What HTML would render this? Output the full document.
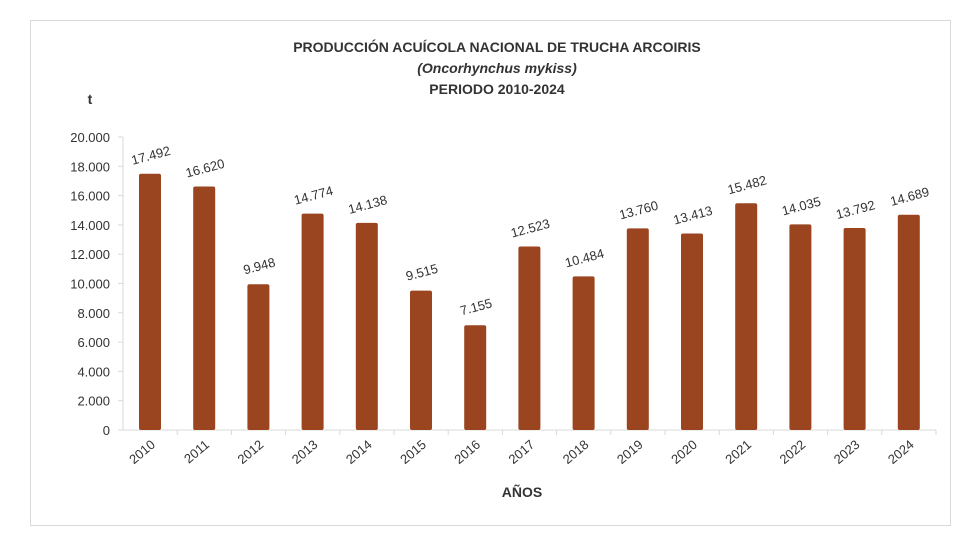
<!DOCTYPE html><html><head><meta charset="utf-8"><style>body{margin:0;background:#fff}svg{display:block;font-family:"Liberation Sans",sans-serif}</style></head><body>
<svg width="980" height="560" viewBox="0 0 980 560">
<rect x="30.5" y="20.5" width="920" height="505" fill="#fff" stroke="#d9d9d9"/>
<g font-weight="bold" font-size="14" fill="#333" text-anchor="middle">
<text x="497" y="52">PRODUCCIÓN ACUÍCOLA NACIONAL DE TRUCHA ARCOIRIS</text>
<text x="497" y="73" font-style="italic">(Oncorhynchus mykiss)</text>
<text x="497" y="94">PERIODO 2010-2024</text>
<text x="90" y="104">t</text>
<text x="522" y="497">AÑOS</text>
</g>
<g stroke="#d9d9d9">
<line x1="123" y1="137" x2="123" y2="430"/><line x1="123" y1="430" x2="936" y2="430"/>
<line x1="118" y1="430" x2="123" y2="430"/><line x1="118" y1="400.7" x2="123" y2="400.7"/><line x1="118" y1="371.4" x2="123" y2="371.4"/><line x1="118" y1="342.1" x2="123" y2="342.1"/><line x1="118" y1="312.8" x2="123" y2="312.8"/><line x1="118" y1="283.5" x2="123" y2="283.5"/><line x1="118" y1="254.2" x2="123" y2="254.2"/><line x1="118" y1="224.9" x2="123" y2="224.9"/><line x1="118" y1="195.6" x2="123" y2="195.6"/><line x1="118" y1="166.3" x2="123" y2="166.3"/><line x1="118" y1="137" x2="123" y2="137"/>
<line x1="177.2" y1="430" x2="177.2" y2="435"/><line x1="231.4" y1="430" x2="231.4" y2="435"/><line x1="285.6" y1="430" x2="285.6" y2="435"/><line x1="339.8" y1="430" x2="339.8" y2="435"/><line x1="394" y1="430" x2="394" y2="435"/><line x1="448.2" y1="430" x2="448.2" y2="435"/><line x1="502.4" y1="430" x2="502.4" y2="435"/><line x1="556.6" y1="430" x2="556.6" y2="435"/><line x1="610.8" y1="430" x2="610.8" y2="435"/><line x1="665" y1="430" x2="665" y2="435"/><line x1="719.2" y1="430" x2="719.2" y2="435"/><line x1="773.4" y1="430" x2="773.4" y2="435"/><line x1="827.6" y1="430" x2="827.6" y2="435"/><line x1="881.8" y1="430" x2="881.8" y2="435"/><line x1="936" y1="430" x2="936" y2="435"/>
</g>
<g font-size="13" fill="#333" text-anchor="end">
<text x="110" y="435">0</text><text x="110" y="405.7">2.000</text><text x="110" y="376.4">4.000</text><text x="110" y="347.1">6.000</text><text x="110" y="317.8">8.000</text><text x="110" y="288.5">10.000</text><text x="110" y="259.2">12.000</text><text x="110" y="229.9">14.000</text><text x="110" y="200.6">16.000</text><text x="110" y="171.3">18.000</text><text x="110" y="142">20.000</text>
</g>
<g fill="#9a4520">
<rect x="139" y="173.7" width="22" height="256.3" rx="2"/>
<rect x="193.2" y="186.5" width="22" height="243.5" rx="2"/>
<rect x="247.4" y="284.3" width="22" height="145.7" rx="2"/>
<rect x="301.6" y="213.6" width="22" height="216.4" rx="2"/>
<rect x="355.8" y="222.9" width="22" height="207.1" rx="2"/>
<rect x="410" y="290.6" width="22" height="139.4" rx="2"/>
<rect x="464.2" y="325.2" width="22" height="104.8" rx="2"/>
<rect x="518.4" y="246.5" width="22" height="183.5" rx="2"/>
<rect x="572.6" y="276.4" width="22" height="153.6" rx="2"/>
<rect x="626.8" y="228.4" width="22" height="201.6" rx="2"/>
<rect x="681" y="233.5" width="22" height="196.5" rx="2"/>
<rect x="735.2" y="203.2" width="22" height="226.8" rx="2"/>
<rect x="789.4" y="224.4" width="22" height="205.6" rx="2"/>
<rect x="843.6" y="228" width="22" height="202" rx="2"/>
<rect x="897.8" y="214.8" width="22" height="215.2" rx="2"/>
</g>
<g font-size="13" fill="#333" text-anchor="middle">
<text transform="translate(152,159.7) rotate(-15)">17.492</text>
<text transform="translate(206.2,172.5) rotate(-15)">16.620</text>
<text transform="translate(260.4,270.3) rotate(-15)">9.948</text>
<text transform="translate(314.6,199.6) rotate(-15)">14.774</text>
<text transform="translate(368.8,208.9) rotate(-15)">14.138</text>
<text transform="translate(423,276.6) rotate(-15)">9.515</text>
<text transform="translate(477.2,311.2) rotate(-15)">7.155</text>
<text transform="translate(531.4,232.5) rotate(-15)">12.523</text>
<text transform="translate(585.6,262.4) rotate(-15)">10.484</text>
<text transform="translate(639.8,214.4) rotate(-15)">13.760</text>
<text transform="translate(694,219.5) rotate(-15)">13.413</text>
<text transform="translate(748.2,189.2) rotate(-15)">15.482</text>
<text transform="translate(802.4,210.4) rotate(-15)">14.035</text>
<text transform="translate(856.6,214) rotate(-15)">13.792</text>
<text transform="translate(910.8,200.8) rotate(-15)">14.689</text>
</g>
<g font-size="13" fill="#333" text-anchor="end">
<text transform="translate(156,446) rotate(-40)">2010</text>
<text transform="translate(210.2,446) rotate(-40)">2011</text>
<text transform="translate(264.4,446) rotate(-40)">2012</text>
<text transform="translate(318.6,446) rotate(-40)">2013</text>
<text transform="translate(372.8,446) rotate(-40)">2014</text>
<text transform="translate(427,446) rotate(-40)">2015</text>
<text transform="translate(481.2,446) rotate(-40)">2016</text>
<text transform="translate(535.4,446) rotate(-40)">2017</text>
<text transform="translate(589.6,446) rotate(-40)">2018</text>
<text transform="translate(643.8,446) rotate(-40)">2019</text>
<text transform="translate(698,446) rotate(-40)">2020</text>
<text transform="translate(752.2,446) rotate(-40)">2021</text>
<text transform="translate(806.4,446) rotate(-40)">2022</text>
<text transform="translate(860.6,446) rotate(-40)">2023</text>
<text transform="translate(914.8,446) rotate(-40)">2024</text>
</g>
</svg></body></html>
